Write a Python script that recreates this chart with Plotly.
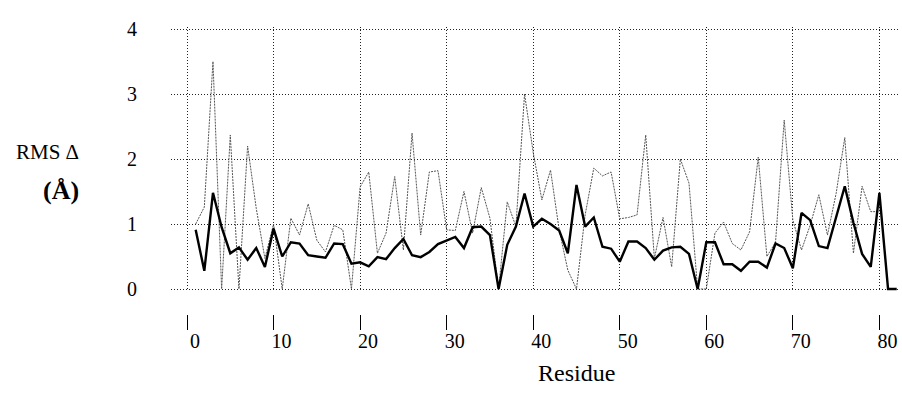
import plotly.graph_objects as go

residues_a = list(range(1, 83))
rms_a = [0.91, 0.28, 1.48, 0.95, 0.55, 0.64, 0.45, 0.63, 0.34, 0.93,
         0.50, 0.72, 0.70, 0.52, 0.50, 0.48, 0.70, 0.69, 0.39, 0.41,
         0.35, 0.49, 0.46, 0.63, 0.77, 0.52, 0.49, 0.57, 0.69, 0.74,
         0.80, 0.63, 0.95, 0.96, 0.83, 0.00, 0.68, 0.96, 1.47, 0.96,
         1.08, 1.00, 0.90, 0.55, 1.60, 0.96, 1.10, 0.65, 0.62, 0.42,
         0.73, 0.73, 0.63, 0.45, 0.59, 0.64, 0.65, 0.54, 0.00, 0.72,
         0.72, 0.38, 0.38, 0.28, 0.42, 0.42, 0.33, 0.70, 0.63, 0.32,
         1.17, 1.06, 0.66, 0.63, 1.11, 1.58, 1.02, 0.54, 0.34, 1.48,
         0.00, 0.00]

residues_b = list(range(1, 81))
rms_b = [1.00, 1.26, 3.50, 0.00, 2.37, 0.00, 2.20, 1.24, 0.47, 1.00,
         0.00, 1.09, 0.83, 1.31, 0.75, 0.57, 0.98, 0.91, 0.00, 1.57,
         1.80, 0.55, 0.86, 1.73, 0.60, 2.40, 0.83, 1.80, 1.82, 0.91,
         0.90, 1.50, 0.86, 1.56, 1.09, 0.00, 1.34, 0.96, 3.00, 2.10,
         1.37, 1.83, 0.91, 0.29, 0.00, 1.14, 1.86, 1.74, 1.80, 1.08,
         1.10, 1.14, 2.37, 0.47, 1.10, 0.34, 2.00, 1.63, 0.00, 0.00,
         0.86, 1.03, 0.70, 0.60, 0.88, 2.03, 0.50, 0.72, 2.60, 1.06,
         0.60, 0.98, 1.45, 0.83, 1.47, 2.33, 0.55, 1.58, 1.19, 1.19]

x_ticks = [0, 10, 20, 30, 40, 50, 60, 70, 80]
y_ticks = [0, 1, 2, 3, 4]

FONT = "Liberation Serif"
W, H = 902, 398
ML, MR, MT, MB = 171, 2, 27, 84

fig = go.Figure()
fig.add_trace(go.Scatter(x=residues_b, y=rms_b, mode="lines",
                         line=dict(color="#555555", width=1, dash="2px,1px"),
                         showlegend=False))
fig.add_trace(go.Scatter(x=residues_a, y=rms_a, mode="lines",
                         line=dict(color="#000000", width=2.4),
                         showlegend=False))

fig.update_layout(
    width=W, height=H,
    margin=dict(l=ML, r=MR, t=MT, b=MB, autoexpand=False),
    plot_bgcolor="white", paper_bgcolor="white",
    font=dict(family=FONT, color="black"),
    xaxis=dict(range=[-1.85, 82.38], tickvals=x_ticks,
               ticktext=[str(v) for v in x_ticks],
               anchor="free", position=0, automargin=False,
               showline=False, zeroline=False,
               showgrid=True, gridcolor="#222222", gridwidth=1, griddash="1px,2px",
               ticks="outside", ticklen=15, tickwidth=1.2, tickcolor="black",
               ticklabelshift=8, ticklabelstandoff=-6,
               tickfont=dict(family=FONT, size=20, color="black")),
    yaxis=dict(range=[-0.031, 4.031], domain=[0.0801, 1], automargin=False,
               tickvals=y_ticks, showline=False, zeroline=False,
               showgrid=True, gridcolor="#222222", gridwidth=1, griddash="1px,2px",
               ticks="", ticklabelstandoff=33,
               tickfont=dict(family=FONT, size=20, color="black")),
)


def px_to_paper(px, py):
    pw = W - ML - MR
    ph = H - MT - MB
    return (px - ML) / pw, (H - MB - py) / ph


ax, ay = px_to_paper(47, 152)
bx, by = px_to_paper(61, 190)
rx, ry = px_to_paper(576, 373)
fig.add_annotation(text="RMS Δ", xref="paper", yref="paper", xanchor="center", yanchor="middle",
                   x=ax, y=ay, showarrow=False, font=dict(family=FONT, size=21, color="black"))
fig.add_annotation(text="<b>(Å)</b>", xref="paper", yref="paper", xanchor="center", yanchor="middle",
                   x=bx, y=by, showarrow=False, font=dict(family=FONT, size=26, color="black"))
fig.add_annotation(text="Residue", xref="paper", yref="paper", xanchor="center", yanchor="middle",
                   x=rx, y=ry, showarrow=False, font=dict(family=FONT, size=24, color="black"))

fig.write_html("out.html", config={"displayModeBar": False},
               post_script="document.body.style.margin='0px';document.body.style.overflow='hidden';")
